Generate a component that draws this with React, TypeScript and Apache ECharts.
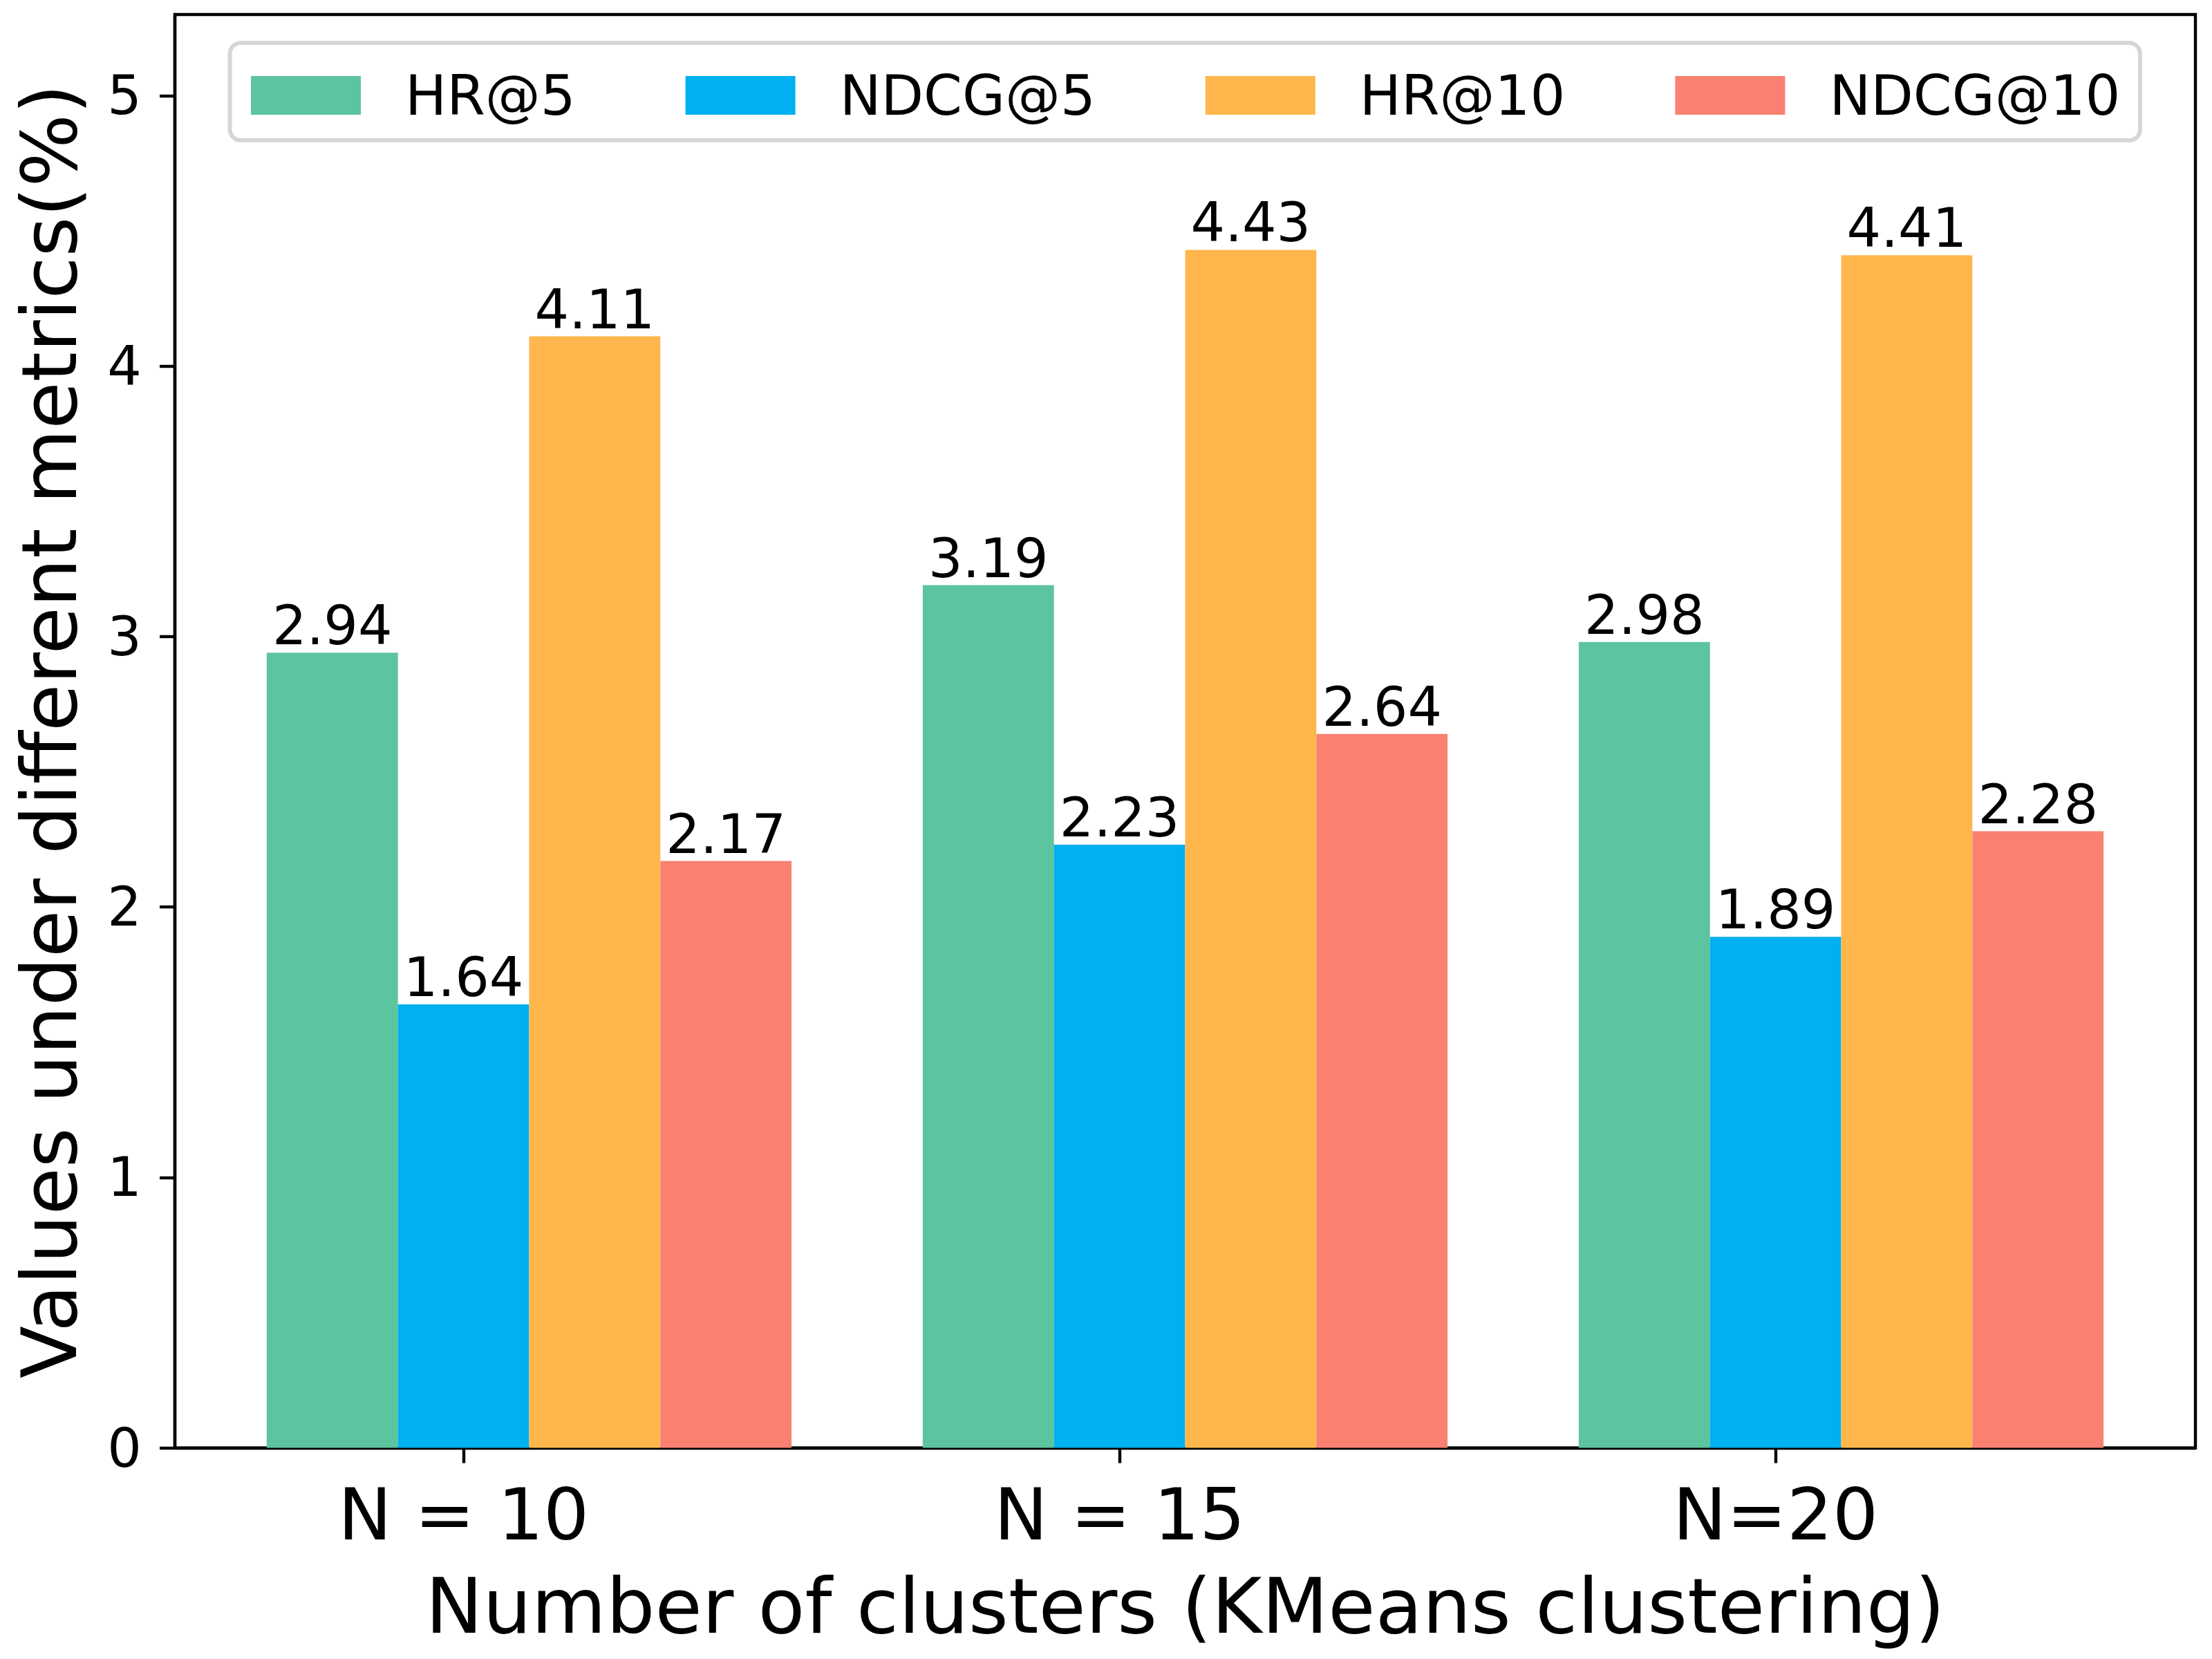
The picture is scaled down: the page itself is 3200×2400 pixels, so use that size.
import React, { useEffect, useRef } from "react";
import * as echarts from "echarts";

// ---- data ----
const categories = ["N = 10", "N = 15", "N=20"];
const categoryIndex = [0, 1, 2];
const seriesNames = ["HR@5", "NDCG@5", "HR@10", "NDCG@10"];
const hr5 = [2.94, 3.19, 2.98];
const ndcg5 = [1.64, 2.23, 1.89];
const hr10 = [4.11, 4.43, 4.41];
const ndcg10 = [2.17, 2.64, 2.28];
const yTicks = [0, 1, 2, 3, 4, 5];
const xTitle = "Number of clusters (KMeans clustering)";
const yTitle = "Values under different metrics(%)";

// ---- style ----
const colors = ["#5CC49F", "#00B0F0", "#FFB74D", "#FA8072"];
const FONT = "DejaVu Sans";
const GROUP_SHIFT = 0.1; // bar groups are centred half a bar right of the tick
const LW = 4.4;

export default function App() {
  const ref = useRef<HTMLDivElement>(null);
  useEffect(() => {
    if (!ref.current) return;
    const chart = echarts.init(ref.current, undefined, { renderer: "svg" });
    const allSeries = [hr5, ndcg5, hr10, ndcg10];
    const option: any = {
      animation: false,
      backgroundColor: "#ffffff",
      textStyle: { fontFamily: FONT, color: "#000" },
      grid: {
        left: 253,
        right: 24,
        top: 21,
        bottom: 305.4,
        show: true,
        borderColor: "#000",
        borderWidth: LW,
        backgroundColor: "transparent",
      },
      graphic: [
        {
          type: "rect",
          z: 1,
          shape: { x: 332.5, y: 62, width: 2763.5, height: 141, r: 16 },
          style: { fill: "rgba(255,255,255,0.8)", stroke: "#d6d6d6", lineWidth: 6 },
        },
      ],
      legend: {
        data: seriesNames,
        left: 363,
        top: 98,
        padding: 0,
        z: 5,
        icon: "rect",
        itemWidth: 159,
        itemHeight: 56,
        itemGap: 159,
        selectedMode: false,
        textStyle: {
          fontFamily: FONT,
          fontSize: 80,
          lineHeight: 56,
          color: "#000",
          padding: [0, 0, 0, 59],
        },
      },
      xAxis: {
        type: "value",
        min: -0.44,
        max: 2.64,
        splitLine: { show: false },
        axisLine: { show: true, onZero: false, lineStyle: { color: "#000", width: LW } },
        axisTick: {
          show: true,
          length: 22,
          customValues: categoryIndex,
          lineStyle: { color: "#000", width: LW },
        },
        axisLabel: {
          customValues: categoryIndex,
          formatter: (v: number) => categories[Math.round(v)] ?? "",
          fontFamily: FONT,
          fontSize: 104,
          lineHeight: 104,
          margin: 44,
          color: "#000",
        },
        name: xTitle,
        nameLocation: "middle",
        nameGap: 173,
        nameTextStyle: { fontFamily: FONT, fontSize: 111, lineHeight: 111, color: "#000" },
      },
      yAxis: {
        type: "value",
        min: 0,
        max: 5.3,
        splitLine: { show: false },
        axisLine: { show: true, onZero: false, lineStyle: { color: "#000", width: LW } },
        axisTick: {
          show: true,
          length: 22,
          customValues: yTicks,
          lineStyle: { color: "#000", width: LW },
        },
        axisLabel: {
          customValues: yTicks,
          fontFamily: FONT,
          fontSize: 78,
          margin: 48,
          color: "#000",
        },
        name: yTitle,
        nameLocation: "middle",
        nameRotate: 90,
        nameGap: 126,
        nameTextStyle: { fontFamily: FONT, fontSize: 111, lineHeight: 111, color: "#000" },
      },
      series: allSeries.map((vals, k) => ({
        type: "bar",
        name: seriesNames[k],
        data: vals.map((v, i) => [categoryIndex[i] + GROUP_SHIFT, v]),
        barGap: "0%",
        barCategoryGap: "20%",
        itemStyle: { color: colors[k] },
        emphasis: { disabled: true },
        label: {
          show: true,
          position: "top",
          distance: 0,
          fontFamily: FONT,
          fontSize: 78,
          lineHeight: 78,
          color: "#000",
          formatter: (p: any) => Number(p.value[1]).toFixed(2),
        },
      })),
    };
    chart.setOption(option);
    return () => chart.dispose();
  }, []);
  return (
    <div
      ref={ref}
      style={{ position: "absolute", left: 0, top: 0, width: 3200, height: 2400 }}
    />
  );
}
